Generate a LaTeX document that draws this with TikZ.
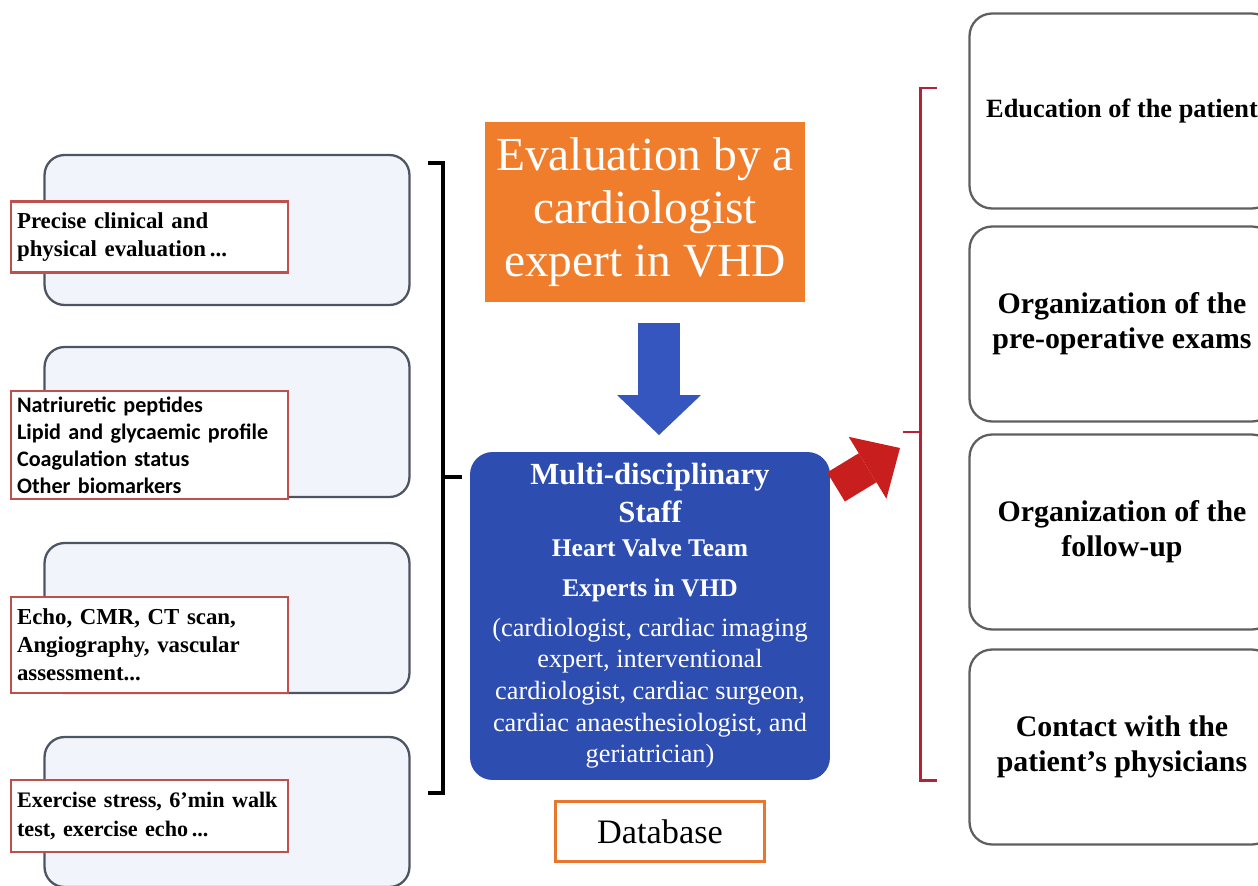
\documentclass[tikz,border=0pt]{standalone}
\usepackage{fontspec}
\setmainfont{Liberation Serif}
\newfontfamily\labelsans{Carlito}
\usetikzlibrary{arrows.meta, positioning}

\definecolor{boxgray}{HTML}{4D5563}
\definecolor{boxblue}{HTML}{F1F5FB}
\definecolor{tagred}{HTML}{C0504D}
\definecolor{taskgray}{HTML}{5F5F5F}
\definecolor{evalorange}{HTML}{F07D2C}
\definecolor{staffblue}{HTML}{2D4DB0}
\definecolor{downblue}{HTML}{3556BF}
\definecolor{arrowred}{HTML}{C81E1E}
\definecolor{bracered}{HTML}{B52238}
\definecolor{dborange}{HTML}{E8762D}

\begin{document}
\begin{tikzpicture}[
    x=0.02cm, y=-0.02cm,
    sidebox/.style={rectangle, draw=boxgray, line width=1.3pt, fill=boxblue, rounded corners=0.4cm, minimum width=7.3cm, minimum height=3cm},
    tag/.style={rectangle, draw=tagred, line width=1.2pt, fill=white, anchor=west, text width=5.3cm, inner xsep=0.12cm, align=left, font=\fontsize{13}{16}\selectfont\bfseries},
    evalbox/.style={rectangle, fill=evalorange, text=white, minimum width=6.4cm, minimum height=3.62cm, inner xsep=2pt, align=center, font=\fontsize{27}{30}\selectfont},
    staffbox/.style={rectangle, fill=staffblue, text=white, rounded corners=0.45cm, minimum width=7.2cm, minimum height=6.56cm, align=center, font=\fontsize{15}{18}\selectfont},
    dbbox/.style={rectangle, draw=dborange, line width=1.7pt, fill=white, minimum width=4.2cm, minimum height=1.2cm, font=\fontsize{19.5}{22}\selectfont},
    taskbox/.style={rectangle, draw=taskgray, line width=1.3pt, fill=white, rounded corners=0.45cm, minimum width=6.1cm, minimum height=3.9cm, align=center, font=\fontsize{17}{20}\selectfont\bfseries},
    lbrace/.style={line width=2.3pt, draw=black},
    rbrace/.style={line width=1.7pt, draw=bracered},
    bluearrow/.style={line width=0.84cm, draw=downblue, -{Triangle[length=0.8cm, width=1.68cm, line width=0pt]}},
    redarrow/.style={line width=0.68cm, draw=arrowred, -{Triangle[length=0.76cm, width=1.45cm, line width=0pt]}}
]
\useasboundingbox (0,0) rectangle (1258,886);
\clip (0,0) rectangle (1258,886);

% Left column
\node[sidebox] (clin) at (227,230) {};
\node[sidebox] (bio) at (227,422) {};
\node[sidebox] (imag) at (227,618) {};
\node[sidebox] (stress) at (227,812) {};

\node[tag, minimum height=1.42cm] (clintag) at (10,237) {Precise clinical and\\physical evaluation\,...};
\node[tag, minimum height=1.92cm, font=\labelsans\fontsize{12.6}{15.3}\selectfont\bfseries] (biotag) at (10,445) {Natriuretic peptides\\Lipid and glycaemic profile\\Coagulation status\\Other biomarkers};
\node[tag, minimum height=1.92cm] (imagtag) at (10,645) {Echo, CMR, CT scan,\\Angiography, vascular\\assessment...};
\node[tag, minimum height=1.44cm, font=\fontsize{12.6}{16}\selectfont\bfseries] (stresstag) at (10,816) {Exercise stress, 6’min walk\\test, exercise echo\,...};

% Centre column
\node[evalbox] (eval) at (645,212) {Evaluation by a\\cardiologist\\expert in VHD};
\node[staffbox] (staff) at (650,616) {%
    {\bfseries\fontsize{17.5}{21}\selectfont Multi-disciplinary}\\[3.5pt]
    {\bfseries\fontsize{17.5}{21}\selectfont Staff}\\[1.3pt]
    {\bfseries\fontsize{14.5}{18}\selectfont Heart Valve Team}\\[4.7pt]
    {\bfseries\fontsize{14.5}{18}\selectfont Experts in VHD}\\[4.7pt]
    (cardiologist, cardiac imaging\\expert, interventional\\cardiologist, cardiac surgeon,\\cardiac anaesthesiologist, and\\geriatrician)};
\node[dbbox, below=0.4cm of staff, xshift=0.2cm] (db) {Database};

% Right column
\node[taskbox, font=\fontsize{15}{18}\selectfont\bfseries] (educ) at (1122,111) {Education of the patient};
\node[taskbox] (preop) at (1122,324) {Organization of the\\pre-operative exams};
\node[taskbox] (follow) at (1122,532) {Organization of the\\follow-up};
\node[taskbox] (contact) at (1122,747) {Contact with the\\patient’s physicians};

% Brackets
\coordinate (lb1) at (428,163);
\coordinate (lb2) at (428,793);
\coordinate (lbm) at (462,477);
\draw[lbrace] (lb1) -- ++(15,0) |- (lb2);
\draw[lbrace] (lbm) -- ++(-19,0);

\coordinate (rb1) at (937,88);
\coordinate (rb2) at (937,780);
\coordinate (rbm) at (903,432);
\draw[rbrace] (rb1) -- ++(-17,0) |- (rb2);
\draw[rbrace] (rbm) -- ++(17,0);

% Arrows
\coordinate (downtip) at (659,435);
\draw[bluearrow, shorten <=0.4cm] (downtip |- eval.south) -- (downtip);

\coordinate (redtail) at (836,487);
\coordinate (redtip) at (900,448);
\draw[redarrow] (redtail) -- (redtip);

\end{tikzpicture}
\end{document}
